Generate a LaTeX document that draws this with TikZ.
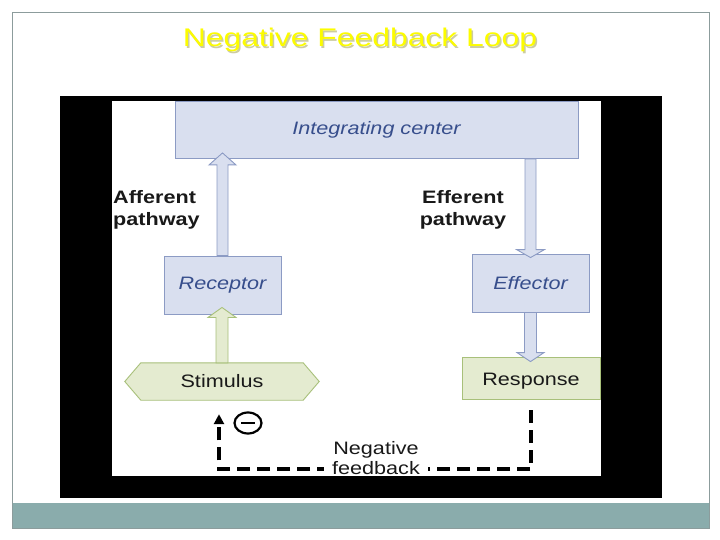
\documentclass[tikz,border=0pt]{standalone}
\usepackage{fontspec}
\setmainfont{Liberation Sans}
\newfontfamily\widesans[FakeStretch=1.2]{Liberation Sans}
\newfontfamily\titlesans[FakeStretch=1.25]{Liberation Sans}
\usetikzlibrary{calc,arrows.meta,shapes.geometric}
\definecolor{boxblue}{RGB}{217,223,239}
\definecolor{edgeblue}{RGB}{140,155,196}
\definecolor{boxgreen}{RGB}{228,235,208}
\definecolor{edgegreen}{RGB}{168,192,122}
\definecolor{txtblue}{RGB}{55,78,140}
\definecolor{txtdark}{RGB}{25,25,25}
\definecolor{framegray}{RGB}{140,156,156}
\definecolor{barteal}{RGB}{138,172,172}
\definecolor{titleyel}{RGB}{252,252,0}
\definecolor{shadowyel}{RGB}{205,205,160}
\pgfdeclarelayer{bottom}
\pgfdeclarelayer{background}
\pgfsetlayers{bottom,background,main}
\tikzset{
  bluebox/.style={draw=edgeblue, fill=boxblue, line width=0.9pt, inner sep=0pt,
    font=\widesans\itshape\fontsize{18}{21}\selectfont, text=txtblue},
  greenbox/.style={draw=edgegreen, fill=boxgreen, line width=0.9pt, inner sep=0pt,
    font=\widesans\fontsize{18}{21}\selectfont, text=txtdark},
  bluearrow/.style={draw=edgeblue, fill=boxblue, line width=0.9pt, line join=miter},
  greenarrow/.style={draw=edgegreen, fill=boxgreen, line width=0.9pt, line join=miter},
  pathlabel/.style={font=\widesans\bfseries\fontsize{18}{22}\selectfont, text=txtdark, inner sep=0pt},
  fbline/.style={line width=4pt, dash pattern=on 13pt off 7pt, black},
}
\begin{document}
\begin{tikzpicture}[x=1pt,y=-1pt]
\useasboundingbox (0,0) rectangle (720,540);
\begin{pgfonlayer}{bottom}
  \fill[white] (0,0) rectangle (720,540);
  \fill[barteal] (12,503) rectangle (709,528);
  \draw[framegray, line width=0.8pt] (12,12) rectangle (709,528);
  \fill[black] (60,96) rectangle (662,498);
  \fill[white] (112,101) rectangle (601,476);
\end{pgfonlayer}

% title
\node[font=\titlesans\fontsize{25.5}{30}\selectfont, text=shadowyel, anchor=base] at (361.5,48.5) {Negative Feedback Loop};
\node (title) [font=\titlesans\fontsize{25.5}{30}\selectfont, text=titleyel, anchor=base] at (360,47) {Negative Feedback Loop};

% boxes
\node (ic)   [bluebox, minimum width=403pt, minimum height=57pt] at (376.5,130) {Integrating center};
\node (rec)  [bluebox, minimum width=117pt, minimum height=58pt] at (222.5,285) {Receptor};
\node (eff)  [bluebox, minimum width=117pt, minimum height=58pt] at (530.5,283) {Effector};
\node (resp) [greenbox, minimum width=138pt, minimum height=42pt, text height=17pt, text depth=3pt] at (531,378) {Response};
\node (stim) [inner sep=0pt, minimum width=194pt, minimum height=37pt,
  font=\widesans\fontsize{18}{21}\selectfont, text=txtdark] at (222,381.5) {Stimulus};
\begin{pgfonlayer}{background}
  \filldraw[draw=edgegreen, fill=boxgreen, line width=0.9pt]
    (stim.west) -- ($(stim.north west)+(16,0)$) -- ($(stim.north east)+(-16,0)$)
    -- (stim.east) -- ($(stim.south east)+(-16,0)$) -- ($(stim.south west)+(16,0)$) -- cycle;
\end{pgfonlayer}

% pathway labels
\node (aff) [pathlabel, align=left, anchor=north west] at (113,190) {Afferent\\pathway};
\node (eft) [pathlabel, align=center, anchor=north] at (463,190) {Efferent\\pathway};

% afferent arrow: receptor -> integrating center
\draw[bluearrow]
  ($(rec.north)+(-5.5,0)$) -- ($(rec.north |- ic.south)+(-5.5,6)$)
  -- ($(rec.north |- ic.south)+(-13.5,6)$) -- ($(rec.north |- ic.south)+(0,-6)$)
  -- ($(rec.north |- ic.south)+(13.5,6)$) -- ($(rec.north |- ic.south)+(5.5,6)$)
  -- ($(rec.north)+(5.5,0)$) -- cycle;

% efferent arrow: integrating center -> effector
\draw[bluearrow]
  ($(eff.north |- ic.south)+(-5.5,0)$) -- ($(eff.north)+(-5.5,-4)$)
  -- ($(eff.north)+(-14,-4)$) -- ($(eff.north)+(0,4)$)
  -- ($(eff.north)+(14,-4)$) -- ($(eff.north)+(5.5,-4)$)
  -- ($(eff.north |- ic.south)+(5.5,0)$) -- cycle;

% effector -> response
\draw[bluearrow]
  ($(eff.south)+(-6,0)$) -- ($(eff.south |- resp.north)+(-6,-4)$)
  -- ($(eff.south |- resp.north)+(-13.5,-4)$) -- ($(eff.south |- resp.north)+(0,5)$)
  -- ($(eff.south |- resp.north)+(13.5,-4)$) -- ($(eff.south |- resp.north)+(6,-4)$)
  -- ($(eff.south)+(6,0)$) -- cycle;

% stimulus -> receptor
\draw[greenarrow]
  ($(stim.north)+(-6,0)$) -- ($(stim.north |- rec.south)+(-6,3)$)
  -- ($(stim.north |- rec.south)+(-14,3)$) -- ($(stim.north |- rec.south)+(0,-7)$)
  -- ($(stim.north |- rec.south)+(14,3)$) -- ($(stim.north |- rec.south)+(6,3)$)
  -- ($(stim.north)+(6,0)$) -- cycle;

% negative feedback loop
\draw[fbline, -{Triangle[length=10pt,width=10pt]}]
  ($(resp.south)+(0,11)$) -- ($(resp.south)+(0,70)$) -| ($(stim.south)+(-3,14)$);
\node (nf) [font=\widesans\fontsize{18}{20.5}\selectfont, text=txtdark, align=center,
  fill=white, inner xsep=8pt, inner ysep=1pt, anchor=north] at (376,440) {Negative\\feedback};
\node (neg) [draw, ellipse, line width=2.2pt, minimum width=27pt, minimum height=21pt, inner sep=0pt] at (248,423) {};
\draw[line width=2.4pt] ($(neg.center)+(-7,0)$) -- ($(neg.center)+(7,0)$);
\end{tikzpicture}
\end{document}
